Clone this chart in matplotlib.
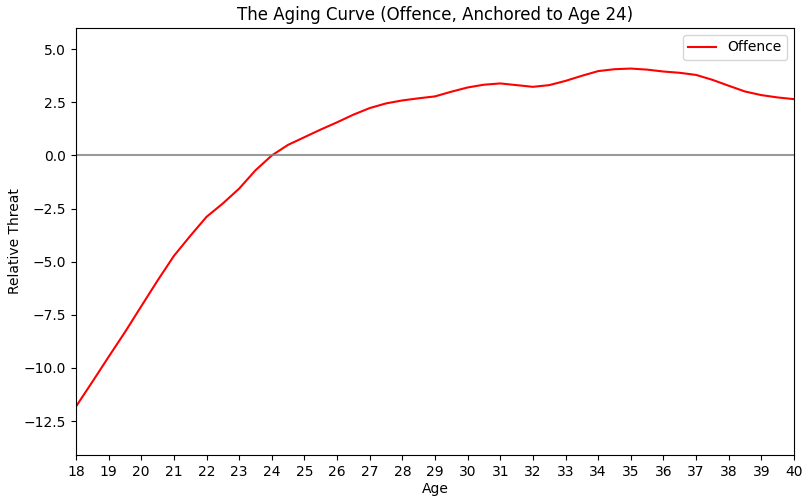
import numpy as np
import matplotlib
matplotlib.use("Agg")
import matplotlib.pyplot as plt

# relative offensive threat by age (half-year steps)
ages = [18, 18.5, 19, 19.5, 20, 20.5, 21, 21.5, 22, 22.5, 23, 23.5,
        24, 24.5, 25, 25.5, 26, 26.5, 27, 27.5, 28, 28.5, 29, 29.5,
        30, 30.5, 31, 31.5, 32, 32.5, 33, 33.5, 34, 34.5, 35, 35.5,
        36, 36.5, 37, 37.5, 38, 38.5, 39, 39.5, 40]
offence = [-11.82, -10.66, -9.48, -8.32, -7.10, -5.89, -4.73, -3.79,
           -2.89, -2.26, -1.56, -0.70, 0.0, 0.50, 0.86, 1.22, 1.56, 1.92,
           2.23, 2.45, 2.59, 2.69, 2.78, 3.00, 3.20, 3.33, 3.39, 3.31,
           3.23, 3.31, 3.51, 3.75, 3.97, 4.06, 4.09, 4.04, 3.95, 3.89,
           3.79, 3.56, 3.28, 3.01, 2.84, 2.73, 2.65]
tick_ages = list(range(18, 41))

fig = plt.figure(figsize=(8.03, 4.97), dpi=100)
ax = fig.add_axes([0.0946, 0.0845, 0.8942, 0.8592])

ax.plot(ages, offence, color='red', label='Offence')
ax.axhline(0, color='gray', alpha=0.8)

ax.set_xlim(18, 40)
ax.set_ylim(-14.1, 6)
ax.set_xticks(tick_ages)
ax.set_xlabel('Age', labelpad=2.5)
ax.set_ylabel('Relative Threat', labelpad=1)
ax.set_title('The Aging Curve (Offence, Anchored to Age 24)')
ax.legend(loc='upper right')

fig.savefig('out.png', dpi=100)
